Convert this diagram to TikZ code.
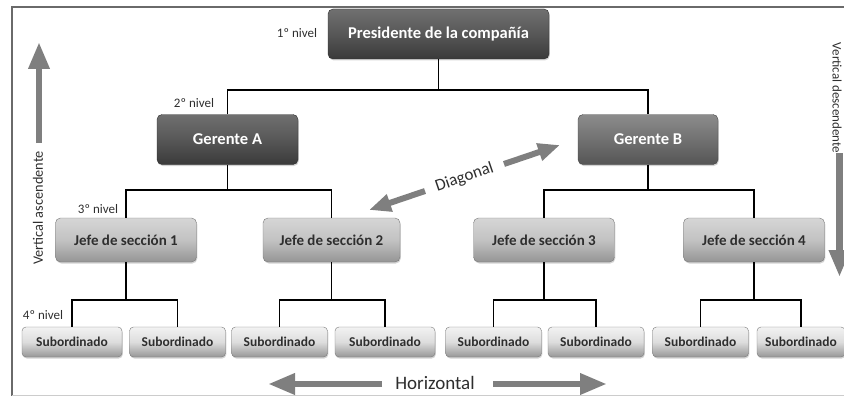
\documentclass[tikz,border=0pt]{standalone}
\usepackage{fontspec}
\setmainfont{Carlito}
\usetikzlibrary{arrows.meta,shadows}

\definecolor{dkTop}{HTML}{707070}
\definecolor{dkMid}{HTML}{575757}
\definecolor{dkBot}{HTML}{3A3A3A}
\definecolor{mdTop}{HTML}{8C8C8C}
\definecolor{mdMid}{HTML}{717171}
\definecolor{mdBot}{HTML}{555555}
\definecolor{ltTop}{HTML}{D6D6D6}
\definecolor{ltMid}{HTML}{C2C2C2}
\definecolor{ltBot}{HTML}{959595}
\definecolor{sbTop}{HTML}{F2F2F2}
\definecolor{sbMid}{HTML}{DDDDDD}
\definecolor{sbBot}{HTML}{979797}
\definecolor{arrowgray}{HTML}{7F7F7F}
\definecolor{framegray}{HTML}{6A6A6A}
\definecolor{txtdark}{HTML}{2E2E2E}

\tikzset{
  box/.style={rounded corners=5pt, inner sep=0pt, align=center,
    drop shadow={shadow xshift=0.8pt, shadow yshift=-1.5pt, opacity=0.35}},
  darkbox/.style={box, top color=dkTop, bottom color=dkBot, middle color=dkMid,
    draw=dkBot!80!black, text=white, minimum height=50pt,
    font=\bfseries\fontsize{16.5}{18}\selectfont},
  medbox/.style={box, top color=mdTop, bottom color=mdBot, middle color=mdMid,
    draw=mdBot!80!black, text=white, minimum height=50pt,
    font=\bfseries\fontsize{16.5}{18}\selectfont},
  jefebox/.style={box, top color=ltTop, bottom color=ltBot, middle color=ltMid,
    draw=ltBot!80!black, text=txtdark, minimum height=44pt, minimum width=141pt,
    font=\bfseries\fontsize{15}{17}\selectfont},
  subbox/.style={box, rounded corners=4pt, top color=sbTop, bottom color=sbBot, middle color=sbMid,
    draw=sbBot!80!black, text=txtdark, minimum height=30pt, minimum width=96pt,
    font=\bfseries\fontsize{13.5}{15}\selectfont},
  conn/.style={draw=black, line width=1.1pt},
  levellabel/.style={font=\fontsize{13}{15}\selectfont, text=txtdark, inner sep=0pt},
  bigarrow/.style={draw=arrowgray, line width=6.5pt, -{Triangle[width=20pt,length=27pt]}},
  diagarrow/.style={draw=arrowgray, line width=6pt, -{Triangle[width=17pt,length=22pt]}},
  arrowtext/.style={text=txtdark, inner sep=0pt},
}

\begin{document}
\begin{tikzpicture}[x=1pt,y=-1pt]
\useasboundingbox (0,0) rectangle (844,396);

% frame
\draw[draw=framegray, line width=1.3pt] (12,396) -- (12,7) -- (844,7);
\draw[draw=gray!40, line width=1pt] (12,395) -- (844,395);

% nodes
\node[darkbox, minimum width=221pt] (pres) at (438.5,34) {Presidente de la compañía};
\node[darkbox, minimum width=141pt] (gA) at (227.5,139.5) {Gerente A};
\node[medbox, minimum width=140pt] (gB) at (648,139.5) {Gerente B};

\node[jefebox] (j1) at (126,240) {Jefe de sección 1};
\node[jefebox, minimum width=137pt] (j2) at (331.5,240) {Jefe de sección 2};
\node[jefebox] (j3) at (544,240) {Jefe de sección 3};
\node[jefebox] (j4) at (754,240) {Jefe de sección 4};

\node[subbox, minimum width=100pt] (s1) at (72,342) {Subordinado};
\node[subbox] (s2) at (177.5,342) {Subordinado};
\node[subbox] (s3) at (279.5,342) {Subordinado};
\node[subbox, minimum width=100pt] (s4) at (385,342) {Subordinado};
\node[subbox] (s5) at (493.5,342) {Subordinado};
\node[subbox] (s6) at (596,342) {Subordinado};
\node[subbox] (s7) at (700.5,342) {Subordinado};
\node[subbox, minimum width=88pt] (s8) at (801,342) {Subordinado};

% level labels
\node[levellabel] (l1) at (297,33) {1º nivel};
\node[levellabel] (l2) at (194,103) {2º nivel};
\node[levellabel] (l3) at (98,209) {3º nivel};
\node[levellabel] (l4) at (43,315) {4º nivel};

% connectors
\coordinate (bus1) at (0,90);
\coordinate (bus2) at (0,190);
\coordinate (bus3) at (0,300);
\draw[conn] (pres.south) -- (pres.south |- bus1);
\draw[conn] (gA.north) |- (gB.north |- bus1) -- (gB.north);

\draw[conn] (gA.south) -- (gA.south |- bus2);
\draw[conn] (j1.north) |- (j2.north |- bus2) -- (j2.north);
\draw[conn] (gB.south) -- (gB.south |- bus2);
\draw[conn] (j3.north) |- (j4.north |- bus2) -- (j4.north);

\draw[conn] (j1.south) -- (j1.south |- bus3);
\draw[conn] (s1.north) |- (s2.north |- bus3) -- (s2.north);
\draw[conn] (j2.south) -- (j2.south |- bus3);
\draw[conn] (s3.north) |- (s4.north |- bus3) -- (s4.north);
\draw[conn] (j3.south) -- (j3.south |- bus3);
\draw[conn] (s5.north) |- (s6.north |- bus3) -- (s6.north);
\draw[conn] (j4.south) -- (j4.south |- bus3);
\draw[conn] (s7.north) |- (s8.north |- bus3) -- (s8.north);

% vertical ascendente
\coordinate (vaS) at (39,143);
\coordinate (vaT) at (39,42);
\draw[bigarrow] (vaS) -- (vaT);
\node[arrowtext, rotate=90, font=\fontsize{14.3}{16}\selectfont] (vaL) at (38,208) {Vertical ascendente};

% vertical descendente
\coordinate (vdS) at (839.5,153);
\coordinate (vdT) at (839.5,277);
\draw[bigarrow] (vdS) -- (vdT);
\node[arrowtext, rotate=-90, font=\fontsize{13}{15}\selectfont] (vdL) at (837,98) {Vertical descendente};

% horizontal
\node[arrowtext, font=\fontsize{19}{21}\selectfont] (hL) at (435,383) {Horizontal};
\coordinate (hlT) at (268,384);
\coordinate (hrT) at (607,384);
\draw[bigarrow] (382,384) -- (hlT);
\draw[bigarrow] (493,384) -- (hrT);

% diagonal
\coordinate (dL) at (369,210);
\coordinate (dR) at (560,145);
\path (dL) -- node[arrowtext, sloped, font=\fontsize{17}{19}\selectfont] (dLab) {Diagonal} (dR);
\draw[diagarrow] (425,191) -- (dL);
\draw[diagarrow] (504,164) -- (dR);
\end{tikzpicture}
\end{document}
